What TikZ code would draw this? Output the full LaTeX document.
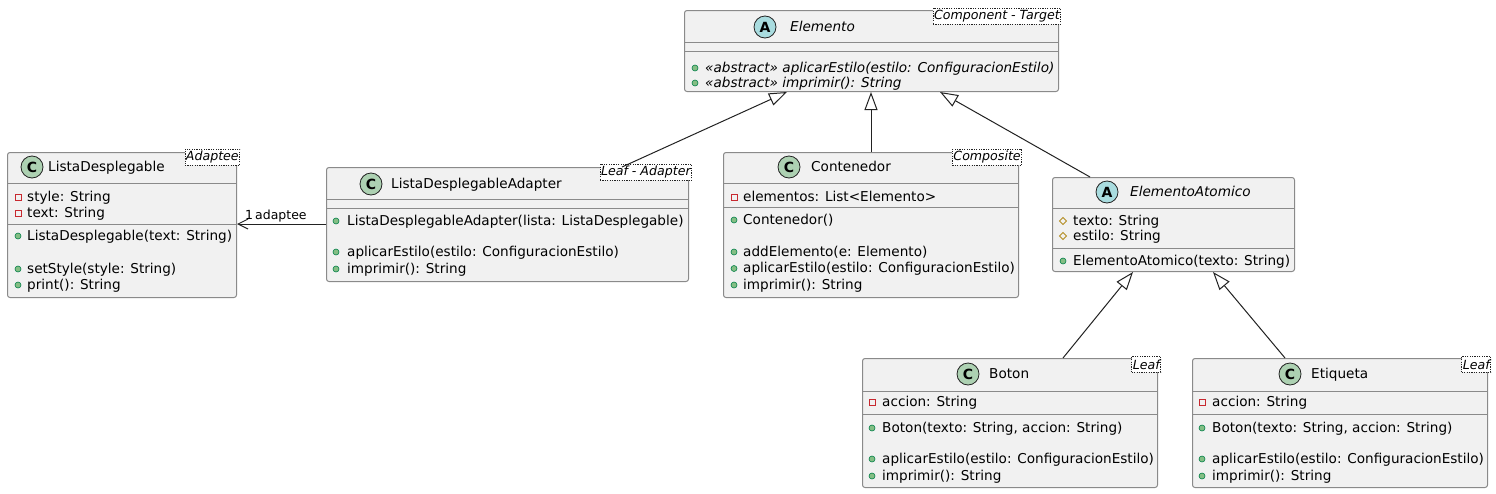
\documentclass[tikz,border=0pt]{standalone}
\usepackage{fontspec}
\setmainfont{DejaVu Sans}
\usetikzlibrary{arrows.meta,calc}
\definecolor{boxfill}{HTML}{F1F1F1}
\definecolor{boxline}{HTML}{8A8A8A}
\definecolor{conn}{HTML}{222222}
\definecolor{pubfill}{HTML}{84BE84}
\definecolor{publine}{HTML}{038048}
\definecolor{privline}{HTML}{C82930}
\definecolor{protline}{HTML}{B38D22}
\definecolor{cspot}{HTML}{ADD1B2}
\definecolor{aspot}{HTML}{A9DCDF}
\tikzset{
  cls/.style={draw=boxline, fill=boxfill, line width=1pt, rounded corners=2.5pt, inner sep=0pt},
  sepl/.style={draw=boxline, line width=1pt},
  mtext/.style={inner sep=0pt, anchor=mid west, yshift=-1.5pt, font=\fontsize{13.6}{16}\selectfont},
  itext/.style={mtext, font=\itshape\fontsize{13.6}{16}\selectfont},
  spot/.style={circle, draw=conn, line width=0.8pt, minimum size=22pt, inner sep=0pt, font=\bfseries\fontsize{14}{14}\selectfont},
  tag/.style={draw=conn, fill=white, line width=0.6pt, dash pattern=on 1.2pt off 1.2pt, inner xsep=1pt, inner ysep=0pt, minimum height=16pt, anchor=north east, font=\itshape\fontsize{12.6}{12.6}\selectfont},
  inh/.style={draw=conn, line width=1pt, -{Triangle[open, length=18pt, width=13pt, line width=1pt]}},
  assoc/.style={draw=conn, line width=1pt, -{Straight Barb[length=10pt, width=10pt, line width=1pt]}},
  lbl/.style={inner sep=0pt, anchor=base west, font=\fontsize{12.5}{13}\selectfont},
}
\newcommand\cbox[5]{\node[cls, anchor=north west, minimum width={#4-#2}, minimum height={#5-#3}] (#1) at (#2,#3) {};}
\newcommand\csep[2]{\draw[sepl] ($(#1.north west)+(0,#2)$) -- ($(#1.north east)+(0,#2)$);}
\newcommand\pubi[2]{\draw[fill=pubfill, draw=publine, line width=0.6pt] (#1,#2) circle (3);}
\newcommand\privi[2]{\draw[draw=privline, line width=0.9pt] (#1-3,#2-3) rectangle (#1+3,#2+3);}
\newcommand\proti[2]{\draw[draw=protline, line width=0.9pt] (#1-3.5,#2) -- (#1,#2-3.5) -- (#1+3.5,#2) -- (#1,#2+3.5) -- cycle;}
\begin{document}
\begin{tikzpicture}[x=1pt, y=-1pt]
\useasboundingbox[fill=white] (0,0) rectangle (1496,493);

% ---------- Elemento ----------
\cbox{elem}{684}{10}{1058}{91}
\csep{elem}{32}\csep{elem}{41}
\node[spot, fill=aspot] (elemS) at (765,27) {A};
\node[itext] (elemN) at (790,27) {Elemento};
\pubi{695}{68}\node[itext] (elemM1) at (705,68) {«abstract» aplicarEstilo(estilo: ConfiguracionEstilo)};
\pubi{695}{83}\node[itext] (elemM2) at (705,83) {«abstract» imprimir(): String};
\node[tag] (elemT) at ($(elem.north east)+(2,-2)$) {Component - Target};

% ---------- ListaDesplegable ----------
\cbox{lista}{7}{152}{236}{297}
\csep{lista}{31}\csep{lista}{72}
\node[spot, fill=cspot] (listaS) at (32,167) {C};
\node[mtext] (listaN) at (48,167) {ListaDesplegable};
\privi{18}{197}\node[mtext] (listaA1) at (27,197) {style: String};
\privi{18}{213}\node[mtext] (listaA2) at (27,213) {text: String};
\pubi{18}{236}\node[mtext] (listaM1) at (27,236) {ListaDesplegable(text: String)};
\pubi{18}{269}\node[mtext] (listaM2) at (27,269) {setStyle(style: String)};
\pubi{18}{285}\node[mtext] (listaM3) at (27,285) {print(): String};
\node[tag] (listaT) at ($(lista.north east)+(3,-3)$) {Adaptee};

% ---------- ListaDesplegableAdapter ----------
\cbox{adp}{326}{167}{688}{281}
\csep{adp}{32}\csep{adp}{41}
\node[spot, fill=cspot] (adpS) at (371,184) {C};
\node[mtext] (adpN) at (391,184) {ListaDesplegableAdapter};
\pubi{336}{221}\node[mtext] (adpM1) at (347,221) {ListaDesplegableAdapter(lista: ListaDesplegable)};
\pubi{336}{252}\node[mtext] (adpM2) at (347,252) {aplicarEstilo(estilo: ConfiguracionEstilo)};
\pubi{336}{269}\node[mtext] (adpM3) at (347,269) {imprimir(): String};
\node[tag] (adpT) at ($(adp.north east)+(3,-3)$) {Leaf - Adapter};

% ---------- Contenedor ----------
\cbox{cont}{723}{152}{1018}{297}
\csep{cont}{31}\csep{cont}{55}
\node[spot, fill=cspot] (contS) at (789,167) {C};
\node[mtext] (contN) at (811,167) {Contenedor};
\privi{734}{197}\node[mtext] (contA1) at (743,197) {elementos: List<Elemento>};
\pubi{734}{220}\node[mtext] (contM1) at (743,220) {Contenedor()};
\pubi{734}{252}\node[mtext] (contM2) at (743,252) {addElemento(e: Elemento)};
\pubi{734}{268.5}\node[mtext] (contM3) at (743,268.5) {aplicarEstilo(estilo: ConfiguracionEstilo)};
\pubi{734}{285}\node[mtext] (contM4) at (743,285) {imprimir(): String};
\node[tag] (contT) at ($(cont.north east)+(3,-3)$) {Composite};

% ---------- ElementoAtomico ----------
\cbox{atom}{1052}{177}{1294}{271}
\csep{atom}{31}\csep{atom}{71}
\node[spot, fill=aspot] (atomS) at (1107,192) {A};
\node[itext] (atomN) at (1130,192) {ElementoAtomico};
\proti{1063}{221}\node[mtext] (atomA1) at (1073,221) {texto: String};
\proti{1063}{236}\node[mtext] (atomA2) at (1073,236) {estilo: String};
\pubi{1063}{261}\node[mtext] (atomM1) at (1073,261) {ElementoAtomico(texto: String)};

% ---------- Boton ----------
\cbox{boton}{862}{358}{1157}{487}
\csep{boton}{33}\csep{boton}{56}
\node[spot, fill=cspot] (botonS) at (968,374) {C};
\node[mtext] (botonN) at (989,374) {Boton};
\privi{872}{402}\node[mtext] (botonA1) at (882,402) {accion: String};
\pubi{872}{428}\node[mtext] (botonM1) at (882,428) {Boton(texto: String, accion: String)};
\pubi{872}{459}\node[mtext] (botonM2) at (882,459) {aplicarEstilo(estilo: ConfiguracionEstilo)};
\pubi{872}{476}\node[mtext] (botonM3) at (882,476) {imprimir(): String};
\node[tag] (botonT) at ($(boton.north east)+(3,-2)$) {Leaf};

% ---------- Etiqueta ----------
\cbox{etiq}{1192}{358}{1487}{487}
\csep{etiq}{33}\csep{etiq}{56}
\node[spot, fill=cspot] (etiqS) at (1290,374) {C};
\node[mtext] (etiqN) at (1311,374) {Etiqueta};
\privi{1202}{402}\node[mtext] (etiqA1) at (1212,402) {accion: String};
\pubi{1202}{428}\node[mtext] (etiqM1) at (1212,428) {Boton(texto: String, accion: String)};
\pubi{1202}{459}\node[mtext] (etiqM2) at (1212,459) {aplicarEstilo(estilo: ConfiguracionEstilo)};
\pubi{1202}{476}\node[mtext] (etiqM3) at (1212,476) {imprimir(): String};
\node[tag] (etiqT) at ($(etiq.north east)+(3,-2)$) {Leaf};

% ---------- connectors ----------
\draw[inh] ($(adp.north west)+(296,0)$) -- ($(elem.south west)+(103,0)$);
\draw[inh] ($(cont.north west)+(148,0)$) -- ($(elem.south west)+(187,0)$);
\draw[inh] ($(atom.north west)+(38,0)$) -- ($(elem.south west)+(256,0)$);
\draw[inh] ($(boton.north west)+(201,0)$) -- ($(atom.south west)+(81,0)$);
\draw[inh] ($(etiq.north west)+(93,0)$) -- ($(atom.south west)+(161,0)$);
\draw[assoc] ($(adp.north west)+(0,57)$) -- ($(lista.north east)+(0,72)$);
\node[lbl] (mult) at (245,219) {1};
\node[lbl] (role) at (255,219) {adaptee};
\end{tikzpicture}
\end{document}
